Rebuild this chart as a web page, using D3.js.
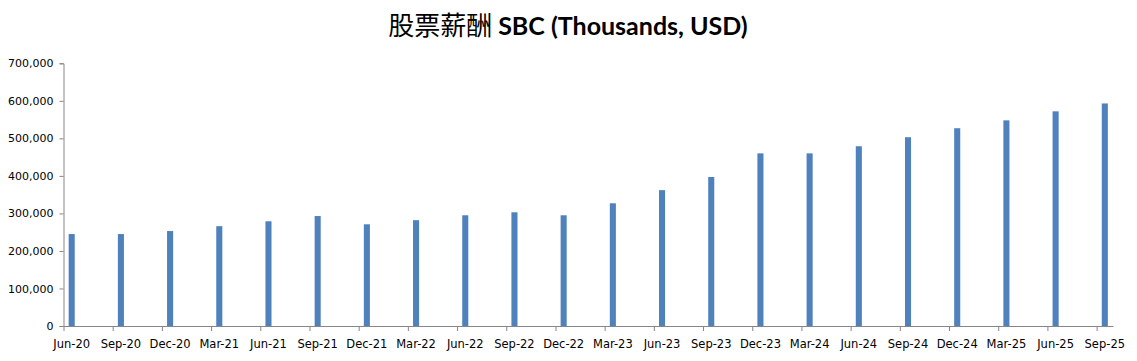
<!DOCTYPE html>
<html>
<head>
<meta charset="utf-8">
<script src="https://cdn.jsdelivr.net/npm/d3@7"></script>
<style>
  html, body { margin: 0; padding: 0; background: #fff; }
  svg { display: block; }
</style>
</head>
<body>
<svg id="chart" width="1137" height="361"></svg>
<script>
// ---- data ----
const categories = ["Jun-20","Sep-20","Dec-20","Mar-21","Jun-21","Sep-21","Dec-21","Mar-22","Jun-22","Sep-22","Dec-22",
  "Mar-23","Jun-23","Sep-23","Dec-23","Mar-24","Jun-24","Sep-24","Dec-24","Mar-25","Jun-25","Sep-25"];
const sbcValues = [245000, 245000, 253000, 266000, 279000, 293000, 271000, 282000, 295000, 303000, 295000,
  327000, 362000, 397000, 460000, 460000, 479000, 503000, 527000, 548000, 572000, 593000];
const yTickValues = [0, 100000, 200000, 300000, 400000, 500000, 600000, 700000];
const titleCJK = "股票薪酬 ";
const titleLatin = "SBC (Thousands, USD)";

(function () {
// ---- layout ----
const svg = d3.select("#chart");
const plotLeft = 63.5, plotRight = 1113, plotTop = 63.3, plotBottom = 326;
const monthsPerCat = 3;
const totalMonths = categories.length * monthsPerCat - 2; // Jun-20 .. Sep-25 monthly slots
const x = d3.scaleLinear().domain([0, totalMonths]).range([plotLeft, plotRight]);
const y = d3.scaleLinear().domain([0, 700000]).range([plotBottom, plotTop]);
const barW = x(0.37) - x(0);
const axisColor = "#868686";
const textColor = "#000000";

// title
const title = svg.append("text")
  .attr("x", 568).attr("y", 35)
  .attr("text-anchor", "middle")
  .attr("fill", "#000");
title.append("tspan").text(titleCJK)
  .attr("font-family", "'Noto Sans CJK SC', sans-serif")
  .attr("font-size", 26).attr("font-weight", 400);
title.append("tspan").text(titleLatin)
  .attr("font-family", "Lato, 'Open Sans', sans-serif")
  .attr("font-size", 25).attr("font-weight", 700);

// bars
svg.append("g").selectAll("rect")
  .data(sbcValues)
  .join("rect")
  .attr("x", (d, i) => x(i * monthsPerCat + 0.5) - barW / 2)
  .attr("width", barW)
  .attr("y", d => y(d))
  .attr("height", d => y(0) - y(d))
  .attr("fill", "#4F81BD");

// y axis
const yAxis = d3.axisLeft(y).tickValues(yTickValues).tickSize(4).tickPadding(6)
  .tickFormat(d3.format(","));
const gy = svg.append("g").attr("transform", `translate(${plotLeft},0)`).call(yAxis);
gy.select(".domain").attr("stroke", axisColor);
gy.selectAll(".tick line").attr("stroke", axisColor);
gy.selectAll(".tick text").attr("fill", textColor)
  .attr("font-family", "'DejaVu Sans', sans-serif").attr("font-size", 11);

// x axis
const xTickVals = categories.map((c, i) => i * monthsPerCat);
const xAxis = d3.axisBottom(x).tickValues(xTickVals).tickSize(5).tickFormat(() => "").tickSizeOuter(0);
const gx = svg.append("g").attr("transform", `translate(0,${plotBottom})`).call(xAxis);
gx.select(".domain").attr("stroke", axisColor);
gx.selectAll(".tick line").attr("stroke", axisColor);

svg.append("g").selectAll("text")
  .data(categories)
  .join("text")
  .attr("x", (d, i) => x(i * monthsPerCat + 0.5))
  .attr("y", 348)
  .attr("text-anchor", "middle")
  .attr("fill", textColor)
  .attr("font-family", "'DejaVu Sans', sans-serif")
  .attr("font-size", 11.5)
  .text(d => d);
})();
</script>
</body>
</html>
